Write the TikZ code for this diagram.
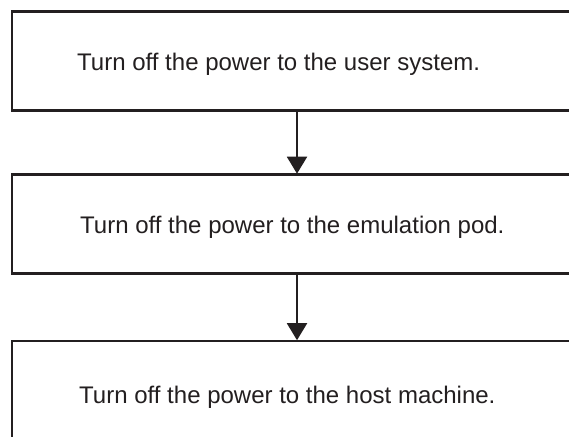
\documentclass[tikz,border=0pt]{standalone}
\usepackage{fontspec}
\setmainfont{Liberation Sans}
\usetikzlibrary{arrows.meta}
\definecolor{ink}{HTML}{231F20}
\tikzset{
  box/.style={draw=ink, line width=2.6pt, minimum width=570pt, minimum height=99pt, inner sep=0pt, outer sep=0pt},
  txt/.style={text=ink, font=\fontsize{24}{28}\selectfont, inner sep=0pt, anchor=base west},
  flow/.style={draw=ink, line width=2pt, -{Triangle[width=20pt,length=17pt]}, shorten >=0.8pt}
}
\begin{document}
\begin{tikzpicture}[x=1pt,y=-1pt]
\useasboundingbox (0,0) rectangle (569,436);
\clip (0,0) rectangle (569,436);
\fill[white] (0,0) rectangle (569,436);
\node[box] (b1) at (297,61) {};
\node[box] (b2) at (297,224) {};
\node[box] (b3) at (297,390.5) {};
\node[txt] (t1) at (77,70.7) {Turn off the power to the user system.};
\node[txt] (t2) at (80,233) {Turn off the power to the emulation pod.};
\node[txt] (t3) at (79,403) {Turn off the power to the host machine.};
\draw[flow] (b1.south) -- (b2.north);
\draw[flow] (b2.south) -- (b3.north);
\end{tikzpicture}
\end{document}
